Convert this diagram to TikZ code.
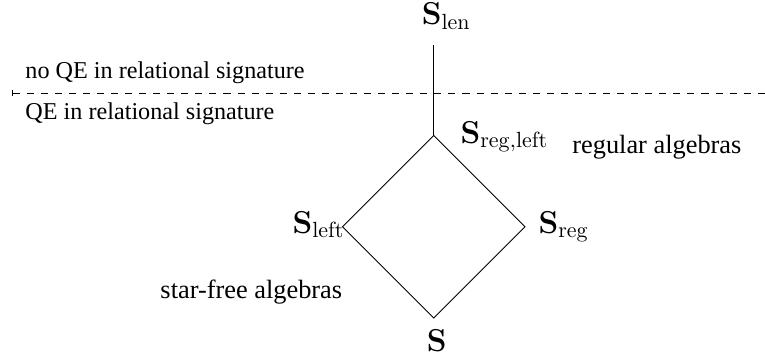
\documentclass[12pt,tikz,border=0pt]{standalone}
\usepackage[no-math]{fontspec}
\newfontfamily\labelfont{Liberation Serif}
\usepackage{tikz}
\usetikzlibrary{arrows.meta}

\begin{document}
\begin{tikzpicture}[font=\labelfont,line width=0.45pt,
  lbl/.style={inner sep=0pt},
  mth/.style={inner sep=0pt,font=\large},
  sig/.style={inner sep=0pt,font=\labelfont\fontsize{11}{13}\selectfont}]
\useasboundingbox (0,0) rectangle (12.24,5.808);
\coordinate (top) at (6.94,3.64);
\coordinate (lft) at (5.48,2.18);
\coordinate (rgt) at (8.40,2.18);
\coordinate (bot) at (6.94,0.72);
\coordinate (lenfoot) at (6.94,5.09);
\coordinate (dstart) at (0.19,4.32);
\coordinate (dend) at (12.24,4.32);
\node[mth,anchor=base] (len) at (7.14,5.41) {$\mathbf{S}_{\mathrm{len}}$};
\node[mth,anchor=base west] (regleft) at (7.36,3.52) {$\mathbf{S}_{\mathrm{reg,left}}$};
\node[mth,anchor=base east] (left) at (5.52,2.08) {$\mathbf{S}_{\mathrm{left}}$};
\node[mth,anchor=base west] (reg) at (8.61,2.08) {$\mathbf{S}_{\mathrm{reg}}$};
\node[mth,anchor=base] (plain) at (6.99,0.18) {$\mathbf{S}$};
\node[lbl,anchor=base west] (regalg) at (9.15,3.36) {regular algebras};
\node[lbl,anchor=base west] (sfalg) at (2.56,1.04) {star-free algebras};
\node[sig,anchor=base west] (noqe) at (0.40,4.56) {no QE in relational signature};
\node[sig,anchor=base west] (qe) at (0.40,3.90) {QE in relational signature};
\draw[dash pattern=on 3.2pt off 3.2pt,{Bar[width=3pt]}-] (dstart) -- (dend);
\draw (top) -- (lenfoot);
\draw (top) -- (rgt) -- (bot) -- (lft) -- cycle;
\end{tikzpicture}
\end{document}
